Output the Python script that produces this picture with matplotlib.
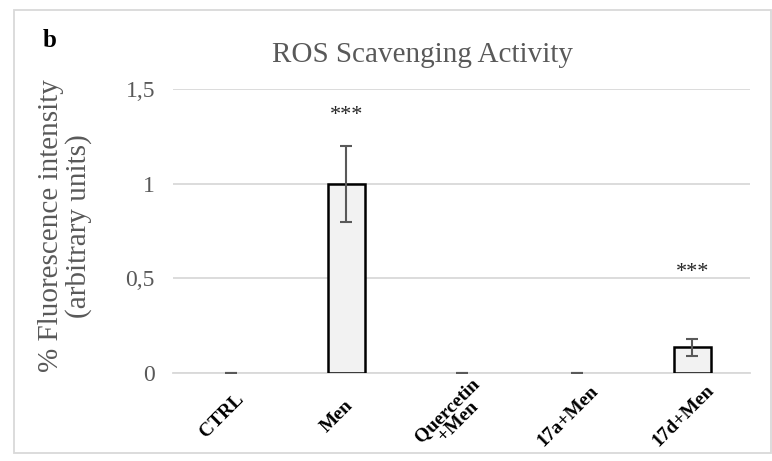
import matplotlib
matplotlib.use("Agg")
import matplotlib.pyplot as plt
from matplotlib.patches import Rectangle
from matplotlib.transforms import ScaledTranslation

categories = ["CTRL", "Men", "Quercetin\n+Men", "17a+Men", "17d+Men"]
values = [0.0, 1.0, 0.0, 0.0, 0.137]
errors = [0.0, 0.2, 0.0, 0.0, 0.045]
significance = ["", "***", "", "", "***"]
significance_y = [None, 1.36, None, None, 0.53]
yticks = [0, 0.5, 1, 1.5]
ytick_labels = ["0", "0,5", "1", "1,5"]

plt.rcParams["font.family"] = ["Liberation Serif", "DejaVu Serif"]

W, H = 772, 461
fig = plt.figure(figsize=(W / 100, H / 100), dpi=100)
ax = fig.add_axes([173 / W, 1 - 373 / H, (750 - 173) / W, (373 - 89) / H])

x = list(range(len(categories)))
edge_widths = [1.8 if v else 0 for v in values]
ax.bar(x, values, width=0.32, color="#f2f2f2", edgecolor="black",
       linewidth=edge_widths, zorder=3)
ax.errorbar(x, values, yerr=errors, fmt="none", ecolor="#595959", elinewidth=1.5,
            capsize=4, capthick=1.5, zorder=4)

for xi, s, sy in zip(x, significance, significance_y):
    if s:
        ax.text(xi, sy, s, ha="center", va="center", fontsize=16, color="#262626")

ax.set_xlim(-0.5, len(categories) - 0.5)
ax.set_ylim(0, 1.5)
ax.set_yticks(yticks)
ax.set_yticklabels(ytick_labels, fontsize=17, color="#595959")
ax.yaxis.grid(True, color="#d9d9d9", linewidth=1.3, zorder=0)
ax.set_axisbelow(True)
ax.tick_params(axis="y", length=0, pad=13)
ax.tick_params(axis="x", length=0, pad=31)
ax.set_xticks(x)
ax.set_xticklabels(categories, rotation=45, ha="center", va="center",
                   fontsize=14, fontweight="bold", color="black", linespacing=0.95)
shift = ScaledTranslation(-9 / 100, 0, fig.dpi_scale_trans)
for lbl in ax.get_xticklabels():
    lbl.set_transform(lbl.get_transform() + shift)
for side in ["top", "right", "left"]:
    ax.spines[side].set_visible(False)
ax.spines["bottom"].set_color("#d9d9d9")
ax.spines["bottom"].set_linewidth(1.3)

fig.text(65 / W, 1 - 226 / H, "% Fluorescence intensity\n(arbitrary units)",
         rotation=90, ha="center", va="center", fontsize=21, color="#595959",
         linespacing=1.05)

fig.text(423 / W, 1 - 62 / H, "ROS Scavenging Activity", ha="center", va="baseline",
         fontsize=21, color="#595959")
fig.text(43 / W, 1 - 47 / H, "b", ha="left", va="baseline", fontsize=18,
         fontweight="bold", color="black")

fig.patches.append(Rectangle((14 / W, 1 - 453 / H), (771 - 14) / W, (453 - 10) / H,
                             transform=fig.transFigure, fill=False,
                             edgecolor="#d9d9d9", linewidth=1.3))

fig.savefig("out.png", dpi=100)
